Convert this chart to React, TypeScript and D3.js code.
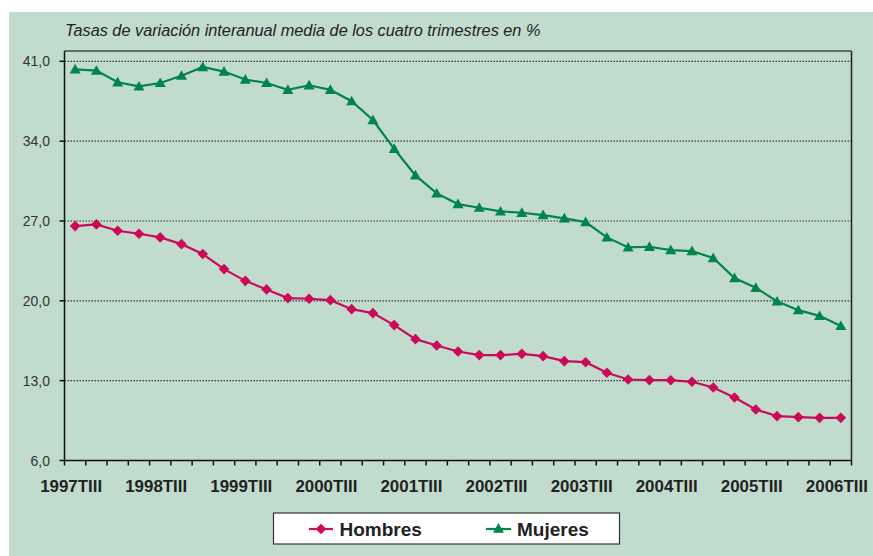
import React from "react";
import * as d3 from "d3";

const categories: string[] = [];
const years = [1997, 1998, 1999, 2000, 2001, 2002, 2003, 2004, 2005, 2006];
const quarters = ["TIII", "TIV", "TI", "TII"];
// 37 quarters from 1997TIII to 2006TIII
for (let i = 0; i < 37; i++) {
  const y = 1997 + Math.floor((i + 2) / 4);
  categories.push(`${y}${quarters[i % 4]}`);
}
const tickLabels = years.map((y) => `${y}TIII`);

const hombres = [
  26.55, 26.7, 26.14, 25.88, 25.56, 24.97, 24.1, 22.78, 21.75, 21.0, 20.24, 20.18, 20.06,
  19.27, 18.92, 17.87, 16.64, 16.08, 15.56, 15.24, 15.24, 15.35, 15.15, 14.71, 14.62,
  13.69, 13.1, 13.05, 13.04, 12.9, 12.4, 11.53, 10.47, 9.89, 9.8, 9.74, 9.74,
];
const mujeres = [
  40.3, 40.18, 39.16, 38.8, 39.1, 39.74, 40.5, 40.1, 39.4, 39.1, 38.5, 38.9, 38.5,
  37.5, 35.85, 33.33, 31.0, 29.42, 28.48, 28.16, 27.84, 27.72, 27.52, 27.23, 26.9,
  25.56, 24.68, 24.74, 24.45, 24.36, 23.75, 21.99, 21.14, 19.95, 19.18, 18.68, 17.8,
];
const yTicks = [6, 13, 20, 27, 34, 41];

const title = "Tasas de variación interanual media de los cuatro trimestres en %";

const W = 873;
const H = 556;
const plotLeft = 64.5;
const plotRight = 851.5;
const plotTop = 51;
const plotBottom = 460.5;

const HCOL = "#cc0a5a";
const MCOL = "#00854a";
const BG = "#c1dccd";
const FONT = "'Liberation Sans', Arial, sans-serif";

export default function App() {
  const x = d3.scaleBand<string>().domain(categories).range([plotLeft, plotRight]).padding(0);
  const y = d3.scaleLinear().domain([6, 41]).range([plotBottom, 61.3]);
  const cx = (i: number) => (x(categories[i]) as number) + x.bandwidth() / 2;

  const line = d3
    .line<number>()
    .x((_, i) => cx(i))
    .y((d) => y(d));

  const diamond = (px: number, py: number, r = 5.3) =>
    `M${px},${py - r}L${px + r},${py}L${px},${py + r}L${px - r},${py}Z`;
  const triangle = (px: number, py: number, r = 5.5) =>
    `M${px},${py - r}L${px + r},${py + r * 0.75}L${px - r},${py + r * 0.75}Z`;

  const boundaries = d3.range(categories.length + 1).map((i) => plotLeft + i * x.bandwidth());

  return (
    <svg width={W} height={H} style={{ position: "absolute", left: 0, top: 0 }}>
      <rect x={0} y={0} width={W} height={H} fill="#ffffff" />
      <rect x={9} y={12} width={W - 9} height={H - 12} fill={BG} />
      <text x={65} y={36} fontFamily={FONT} fontStyle="italic" fontSize={16.3} fill="#222">
        {title}
      </text>
      {/* gridlines */}
      {yTicks
        .filter((t) => t !== 6)
        .map((t) => (
          <line
            key={t}
            x1={plotLeft}
            x2={plotRight}
            y1={y(t)}
            y2={y(t)}
            stroke="#333"
            strokeWidth={1.2}
            strokeDasharray="1.5 1.5"
          />
        ))}
      {/* plot border top/right */}
      <line x1={plotLeft} x2={plotRight} y1={plotTop} y2={plotTop} stroke="#444" strokeWidth={1.5} />
      <line x1={plotRight} x2={plotRight} y1={plotTop} y2={plotBottom} stroke="#222" strokeWidth={1.5} />
      {/* y axis */}
      <line x1={plotLeft} x2={plotLeft} y1={plotTop} y2={plotBottom} stroke="#111" strokeWidth={1.5} />
      {yTicks.map((t) => (
        <g key={t}>
          <line x1={plotLeft - 5} x2={plotLeft} y1={y(t)} y2={y(t)} stroke="#111" strokeWidth={1.5} />
          <text
            x={50}
            y={y(t) + 5}
            textAnchor="end"
            fontFamily={FONT}
            fontSize={14}
            fill="#333"
          >
            {t.toFixed(1).replace(".", ",")}
          </text>
        </g>
      ))}
      {/* x axis */}
      <line x1={plotLeft} x2={plotRight} y1={plotBottom} y2={plotBottom} stroke="#111" strokeWidth={1.5} />
      {boundaries.map((bx, i) => (
        <line key={i} x1={bx} x2={bx} y1={plotBottom} y2={plotBottom + 5} stroke="#111" strokeWidth={1.5} />
      ))}
      {tickLabels.map((lab, k) => (
        <text
          key={lab}
          x={cx(k * 4) - 4}
          y={492}
          textAnchor="middle"
          fontFamily={FONT}
          fontWeight="bold"
          fontSize={16.9}
          fill="#222"
        >
          {lab}
        </text>
      ))}
      {/* series */}
      <path d={line(mujeres) || ""} fill="none" stroke={MCOL} strokeWidth={2.2} />
      {mujeres.map((v, i) => (
        <path key={i} d={triangle(cx(i), y(v))} fill={MCOL} />
      ))}
      <path d={line(hombres) || ""} fill="none" stroke={HCOL} strokeWidth={2.2} />
      {hombres.map((v, i) => (
        <path key={i} d={diamond(cx(i), y(v))} fill={HCOL} />
      ))}
      {/* legend */}
      <rect x={273.5} y={513} width={346} height={31} fill="#fff" stroke="#333" strokeWidth={1.2} />
      <line x1={309} x2={333} y1={529} y2={529} stroke={HCOL} strokeWidth={2.2} />
      <path d={diamond(321, 529)} fill={HCOL} />
      <text x={339.5} y={536} fontFamily={FONT} fontWeight="bold" fontSize={19} fill="#222">
        Hombres
      </text>
      <line x1={486} x2={511} y1={529} y2={529} stroke={MCOL} strokeWidth={2.2} />
      <path d={triangle(498.5, 528.5)} fill={MCOL} />
      <text x={517} y={536} fontFamily={FONT} fontWeight="bold" fontSize={19} fill="#222">
        Mujeres
      </text>
    </svg>
  );
}
